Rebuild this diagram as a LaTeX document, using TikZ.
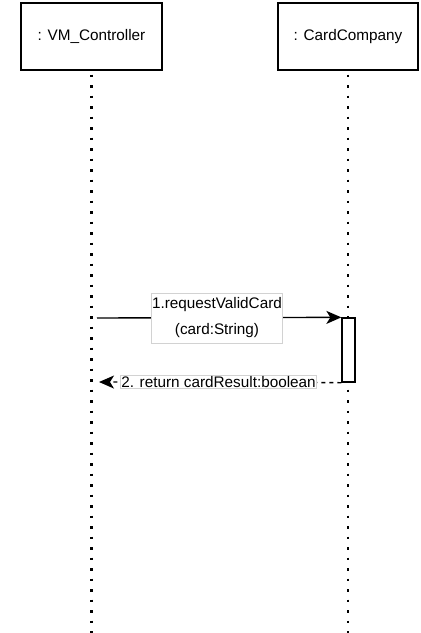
\documentclass[tikz,border=0pt]{standalone}
\usepackage{fontspec}
\setmainfont{Liberation Sans}
\usetikzlibrary{arrows.meta}

\begin{document}
\begin{tikzpicture}[x=1pt, y=-1pt, font=\fontsize{15.3}{18}\selectfont]
        %[draw, line width=1.3pt, minimum width=141pt, minimum height=67pt]
        \useasboundingbox (0,0) rectangle (421,633);

        \node (ctrl) [draw, line width=1.3pt, minimum width=141pt, minimum height=67pt] at (91.5, 36.5) {: VM\_Controller};
        \node (card) [draw, line width=1.3pt, minimum width=140pt, minimum height=67pt] at (348, 36.5) {: CardCompany};

        \coordinate (ctrlend) at (91.5, 633);
        \coordinate (cardend) at (348, 633);
        \draw [line width=2.5pt, dash pattern=on 2.5pt off 8pt, dash phase=-4pt] (ctrl.south) -- (ctrlend);
        \draw [line width=2.5pt, dash pattern=on 2.5pt off 8pt, dash phase=-4pt] (card.south) -- (cardend);

        \node (act) [draw, fill=white, line width=1.3pt, minimum width=13pt, minimum height=64pt, inner sep=0pt] at (348.5, 350) {};

        \coordinate (reqstart) at (97, 318);
        \coordinate (retend) at (99, 382);
        \draw [-{Stealth[length=15pt, width=13pt, inset=4pt]}, line width=1.4pt] (reqstart) -- (act.north west);
        \draw [-{Stealth[length=15pt, width=13pt, inset=4pt]}, line width=1.3pt, dash pattern=on 4pt off 4pt] (act.south west) -- (retend);

        \node (reqlabel) [draw=gray!35, line width=1pt, fill=white, minimum width=130pt, minimum height=50pt, align=center, inner sep=1pt] at (217, 318) {1.requestValidCard\\[8pt](card:String)};
        \node (retlabel) [draw=gray!35, line width=1pt, fill=white, inner sep=1pt] at (218.5, 382) {2. return cardResult:boolean};

    \end{tikzpicture}
\end{document}
